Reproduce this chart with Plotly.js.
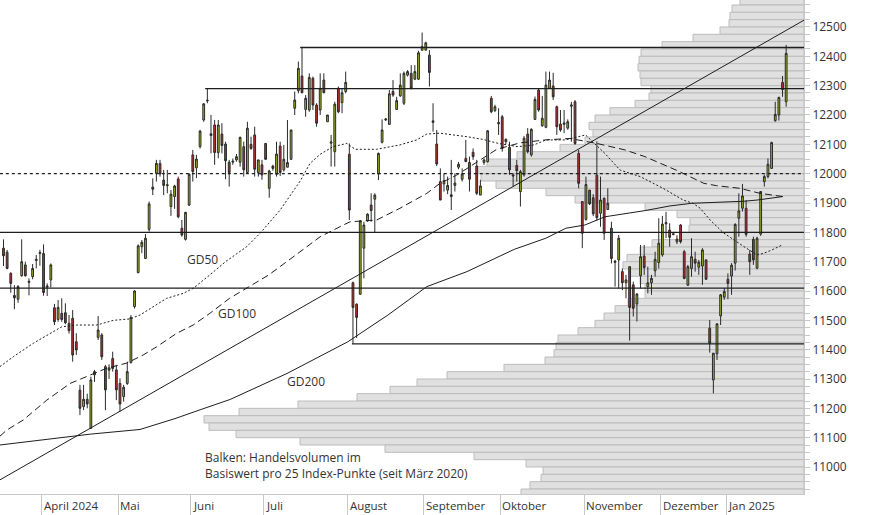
<!DOCTYPE html>
<html><head><meta charset="utf-8">
<script src="https://cdn.plot.ly/plotly-3.0.1.min.js"></script>
<style>html,body{margin:0;padding:0;background:#fff}#chart{width:874px;height:515px}</style>
</head><body><div id="chart"></div>
<script>
// ---- Candles (trading-day index 0..215, 14 Mar 2024 .. Jan 2025) ----
const candleOpen = [
11746,11732,11660,11585,11572,11652,11689,11633,11649,11704,
11728,11728,11613,11638,11543,11503,11524,11526,11490,11507,
11427,11262,11206,11231,11132,11314,11442,11450,11342,11330,
11370,11331,11285,11240,11285,11356,11547,11663,11751,11711,
11810,11954,12001,12035,11978,11959,11888,11922,11982,11814,
11776,11893,12064,12020,12092,12183,12248,12130,12166,12072,
12135,12101,12039,12043,12047,12039,12092,12004,12100,12132,
12004,12030,12103,11950,12026,11998,12094,12013,12022,12049,
12223,12283,12333,12219,12217,12325,12234,12217,12319,12177,
12104,12075,12291,12242,12280,12066,11628,11555,11589,11746,
11839,11893,11913,11999,12107,12183,12168,12280,12219,12265,
12240,12336,12342,12322,12322,12421,12421,12404,12180,12101,
11973,11965,11944,11922,11960,12022,11981,12052,12038,12073,
12026,11927,12038,12041,12257,12215,12170,12194,12109,12090,
11996,12028,11939,11996,12135,12064,12185,12285,12163,12158,
12291,12299,12228,12169,12168,12155,12230,12245,12069,11905,
11844,11944,11918,11995,11865,11916,11878,11814,11702,11706,
11666,11628,11683,11621,11556,11652,11719,11615,11628,11669,
11697,11723,11829,11808,11795,11768,11825,11734,11620,11677,
11708,11681,11685,11706,11473,11297,11386,11515,11579,11640,
11651,11695,11848,11882,11882,11726,11776,11678,11794,11973,
11990,12018,12181,12200,12311,12245];
const candleHigh = [
11776,11740,11664,11620,11620,11776,11700,11643,11692,11723,
11740,11759,11626,11694,11556,11569,11575,11558,11518,11535,
11456,11280,11280,11250,11308,11331,11515,11456,11348,11350,
11393,11348,11302,11280,11359,11518,11603,11759,11774,11794,
11905,11984,12047,12047,12013,12013,11944,11962,11990,11842,
11870,12001,12081,12064,12149,12240,12291,12200,12183,12183,
12172,12109,12047,12052,12067,12126,12109,12177,12126,12160,
12047,12047,12103,12013,12030,12109,12109,12098,12183,12149,
12280,12382,12431,12268,12342,12331,12240,12342,12342,12200,
12132,12245,12297,12291,12348,12103,11632,11558,11842,11836,
11865,11933,11933,12072,12185,12190,12285,12319,12262,12342,
12348,12353,12370,12370,12419,12481,12450,12421,12240,12149,
12018,12001,11990,12047,12001,12040,12018,12115,12058,12086,
12047,11979,12052,12149,12265,12235,12223,12200,12120,12109,
12001,12047,12013,12128,12155,12155,12263,12291,12265,12348,
12348,12344,12232,12217,12217,12185,12245,12251,12081,11905,
11990,11944,11930,12110,11990,11919,11950,11836,11706,11791,
11677,11655,11683,11632,11592,11757,11757,11683,11655,11734,
11848,11856,11870,11831,11797,11790,11828,11740,11689,11780,
11734,11706,11746,11708,11501,11388,11490,11590,11610,11660,
11695,11831,11933,11965,11910,11740,11785,11785,11941,11996,
12052,12109,12245,12262,12333,12439];
const candleLow = [
11685,11674,11594,11538,11560,11649,11649,11585,11640,11677,
11686,11584,11583,11612,11484,11495,11495,11487,11455,11359,
11382,11177,11194,11200,11130,11290,11433,11365,11194,11300,
11325,11228,11189,11223,11280,11353,11540,11660,11729,11709,
11802,11927,11973,11990,11927,11933,11856,11880,11848,11785,
11772,11890,11973,11985,12086,12177,12240,12069,12030,12052,
12069,11981,11956,12030,12041,12024,11990,12001,12081,11990,
11990,11979,12047,11918,12010,11990,11992,12007,12022,12047,
12200,12274,12274,12194,12211,12217,12160,12200,12274,12177,
12024,12024,12206,12206,12274,11842,11420,11440,11587,11643,
11836,11836,11799,11978,12103,12180,12166,12262,12217,12262,
12234,12331,12287,12319,12319,12419,12421,12297,12143,12026,
11910,11939,11930,11876,11939,12015,11973,12041,11939,12047,
11927,11927,12030,12038,12206,12210,12132,12075,12100,11996,
11956,11973,11888,11990,12069,12058,12183,12211,12160,12155,
12291,12251,12132,12143,12138,12150,12109,12098,11950,11746,
11840,11893,11855,11840,11819,11774,11876,11694,11615,11609,
11603,11575,11431,11513,11496,11609,11655,11592,11587,11649,
11677,11717,11780,11751,11790,11760,11762,11640,11617,11649,
11666,11655,11621,11638,11390,11251,11365,11484,11570,11572,
11587,11670,11785,11871,11785,11655,11689,11674,11788,11956,
11984,12016,12177,12181,12262,12228];
const candleClose = [
11720,11677,11626,11577,11615,11700,11652,11630,11677,11708,
11731,11595,11617,11689,11495,11544,11503,11492,11465,11382,
11399,11200,11231,11215,11297,11325,11467,11376,11263,11338,
11336,11263,11215,11272,11325,11510,11600,11754,11766,11780,
11897,11947,12035,11999,11960,11962,11930,11958,11853,11791,
11868,11998,12007,12050,12145,12238,12250,12136,12072,12166,
12096,12044,12004,12040,12058,12124,12013,12155,12086,12015,
12047,11996,12049,12009,12018,12067,12004,12049,12038,12149,
12251,12359,12276,12257,12328,12234,12172,12291,12276,12200,
12108,12237,12211,12276,12311,11876,11544,11510,11839,11825,
11862,11874,11927,12069,12149,12186,12272,12268,12249,12302,
12342,12348,12291,12348,12412,12433,12446,12345,12175,12033,
11910,11976,11960,11928,11968,12032,11999,12041,11981,12058,
11933,11958,12047,12146,12211,12228,12174,12086,12117,12013,
11992,12010,12007,12121,12075,12151,12253,12217,12189,12302,
12319,12262,12160,12149,12173,12177,12234,12103,11967,11797,
11963,11897,11863,11850,11910,11797,11899,11711,11698,11780,
11628,11638,11544,11541,11590,11717,11680,11628,11643,11708,
11763,11828,11833,11783,11793,11777,11768,11643,11683,11717,
11695,11698,11740,11640,11422,11388,11488,11587,11598,11626,
11688,11827,11873,11924,11793,11700,11706,11780,11939,11990,
12032,12106,12202,12260,12287,12410];

// ---- Month axis ----
const monthStartIdx = [11, 32, 52, 72, 95, 116, 137, 160, 181, 199];
const monthLabels = ["April 2024","Mai","Juni","Juli","August","September","Oktober","November","Dezember","Jan 2025"];

// ---- Moving averages (sampled: trading-day index, value) ----
const gd50Idx = [-1,2.7,8.2,12.8,16,20.1,25.6,30.2,34.8,37.5,44.8,49.4,52.1,56.7,61,66.8,70.5,76,81.5,84.2,87,90.5,94.3,96.6,102.5,108.9,113.5,116.3,119.9,127.3,131.6,136,141.3,145.7,149,154.4,159.9,165.2,169.4,174.9,181.2,186.7,189.4,191.4,194.1,197.7,200.4,203.2,207,208.7,211.1,213.9];
const gd50Val = [11342,11376,11422,11456,11478,11484,11484,11500,11505,11518,11575,11592,11609,11655,11700,11751,11797,11876,11975,12035,12066,12092,12103,12083,12083,12098,12115,12135,12138,12126,12117,12103,12092,12098,12115,12115,12132,12069,12012,11990,11950,11910,11899,11882,11842,11799,11776,11753,11723,11728,11740,11757];
const gd100Idx = [-1,0.9,5.4,11.9,18.3,22.9,28.4,33.8,38.4,42.1,47.6,52.1,56.7,62.1,72.9,82.7,87,92.4,95.2,102.5,108.9,116.3,119.9,124.5,130.9,135.5,141.9,148.8,155.6,163,170.7,176.2,184.8,192.4,195.9,202.3,207.8,214.1];
const gd100Val = [11105,11126,11160,11228,11285,11308,11337,11354,11382,11410,11456,11484,11524,11575,11655,11745,11785,11819,11836,11842,11882,11933,11967,11995,12046,12083,12105,12115,12120,12103,12081,12058,12012,11967,11959,11950,11933,11922];
const gd200Idx = [-1,12.8,23.8,37.5,47.1,54,62.2,77.9,94.6,105.6,116.3,127.3,140.3,149,154.5,159.7,165.2,176.2,183.1,189.1,196.9,203.4,207,214.1];
const gd200Val = [11075,11095,11112,11128,11165,11195,11230,11319,11427,11518,11615,11666,11742,11780,11814,11825,11853,11874,11890,11899,11902,11906,11910,11922];

// ---- Horizontal levels and trend line ----
const levelVal = [12430, 12290, 11800, 11610, 11420];
const levelFromIdx = [81.5, 55.4, -1, -1, 95.7];
const dottedLevel = 12000;
const trendIdx = [-1, 221];
const trendVal = [10956, 12531];

// ---- Volume profile (25-point bins, lower bound) ----
const binLow = [12575,12550,12525,12500,12475,12450,12425,12400,12375,12350,12325,12300,12275,12250,12225,12200,12175,12150,12125,12100,12075,12050,12025,12000,11975,11950,11925,11900,11875,11850,11825,11800,11775,11750,11725,11700,11675,11650,11625,11600,11575,11550,11525,11500,11475,11450,11425,11400,11375,11350,11325,11300,11275,11250,11225,11200,11175,11150,11125,11100,11075,11050,11025,11000,10975,10950,10925,10900];
const binVolume = [64,72,74,75,84,111,142,163,165,166,164,163,153,155,169,194,209,215,211,219,244,287,317,327,323,308,258,229,159,127,114,115,124,152,164,177,181,174,164,159,159,176,189,200,209,226,246,248,250,259,300,357,387,414,447,506,565,600,595,568,504,419,330,278,261,263,274,283];

// ---- build ----
const BIN = 25;
const candleIdx = candleOpen.map((_, i) => i);
const ink = '#1e1e1e';
const traces = [];

traces.push({
  type: 'bar', orientation: 'h', xaxis: 'x', yaxis: 'y',
  y: binLow.map(v => v + BIN / 2), x: binVolume, width: BIN,
  marker: {color: '#e0e0e0', line: {color: '#bcbcbc', width: 1}},
  hoverinfo: 'skip'
});

const lineTrace = (xs, ys, dash, w) => ({
  type: 'scatter', mode: 'lines', xaxis: 'x2', yaxis: 'y',
  x: xs, y: ys, line: {color: ink, width: w, dash: dash}, hoverinfo: 'skip'
});

traces.push(lineTrace(gd200Idx, gd200Val, 'solid', 1));
traces.push(lineTrace(gd100Idx, gd100Val, '7px,4px', 1));
traces.push(lineTrace(gd50Idx, gd50Val, '2px,2px', 1));
traces.push(lineTrace(trendIdx, trendVal, 'solid', 1));
levelVal.forEach((v, i) => traces.push(lineTrace([levelFromIdx[i], 221], [v, v], 'solid', 1.3)));
traces.push(lineTrace([-1, 221], [dottedLevel, dottedLevel], '3px,3px', 1.2));

traces.push({
  type: 'candlestick', xaxis: 'x2', yaxis: 'y',
  x: candleIdx, open: candleOpen, high: candleHigh, low: candleLow, close: candleClose,
  whiskerwidth: 0,
  increasing: {line: {color: '#2a2a2a', width: 1}, fillcolor: '#a3b51f'},
  decreasing: {line: {color: '#2a2a2a', width: 1}, fillcolor: '#c0302a'},
  hoverinfo: 'skip'
});

const font = {family: 'Open Sans, sans-serif', size: 12, color: '#333'};
const annotations = monthStartIdx.map((m, i) => ({
  xref: 'x2', yref: 'paper', x: m - 0.5, y: 0, xanchor: 'left', yanchor: 'top',
  yshift: -3, xshift: 1, borderpad: 0, text: monthLabels[i], showarrow: false,
  font: {family: font.family, size: 11.5, color: font.color}
}));
annotations.push(
  {xref: 'x2', yref: 'y', x: 54.6, y: 11706, text: 'GD50', showarrow: false, font: font},
  {xref: 'x2', yref: 'y', x: 64.1, y: 11522, text: 'GD100', showarrow: false, font: font},
  {xref: 'x2', yref: 'y', x: 83.1, y: 11293, text: 'GD200', showarrow: false, font: font},
  {xref: 'paper', yref: 'paper', x: 203 / 804, y: 0.058, xanchor: 'left', yanchor: 'middle', align: 'left',
   text: 'Balken: Handelsvolumen im<br>Basiswert pro 25 Index-Punkte (seit März 2020)', showarrow: false, font: font}
);

const layout = {
  width: 874, height: 515,
  margin: {l: 0, r: 70, t: 0, b: 21, pad: 0},
  paper_bgcolor: '#ffffff', plot_bgcolor: '#ffffff',
  showlegend: false, hovermode: false,
  xaxis: {range: [804, 0], visible: false, fixedrange: true},
  xaxis2: {
    overlaying: 'x', anchor: 'y', side: 'bottom',
    range: [-0.96, 219.9], tickvals: monthStartIdx.map(m => m - 0.5),
    ticks: 'outside', ticklen: 21, tickcolor: '#c8c8c8', tickwidth: 1,
    showticklabels: false, showline: true, linecolor: '#c8c8c8', linewidth: 1,
    showgrid: false, zeroline: false, rangeslider: {visible: false}, fixedrange: true
  },
  yaxis: {
    side: 'right', range: [10908, 12592], dtick: 100, tick0: 0, tickformat: 'd',
    ticks: 'outside', ticklen: 5, tickcolor: '#c8c8c8',
    minor: {dtick: 25, tick0: 0, ticks: 'outside', ticklen: 5, tickcolor: '#c8c8c8', showgrid: false},
    showline: true, linecolor: '#c8c8c8', showgrid: false, zeroline: false,
    tickfont: font, fixedrange: true
  },
  annotations: annotations
};

Plotly.newPlot('chart', traces, layout, {displayModeBar: false, staticPlot: true});
</script></body></html>
